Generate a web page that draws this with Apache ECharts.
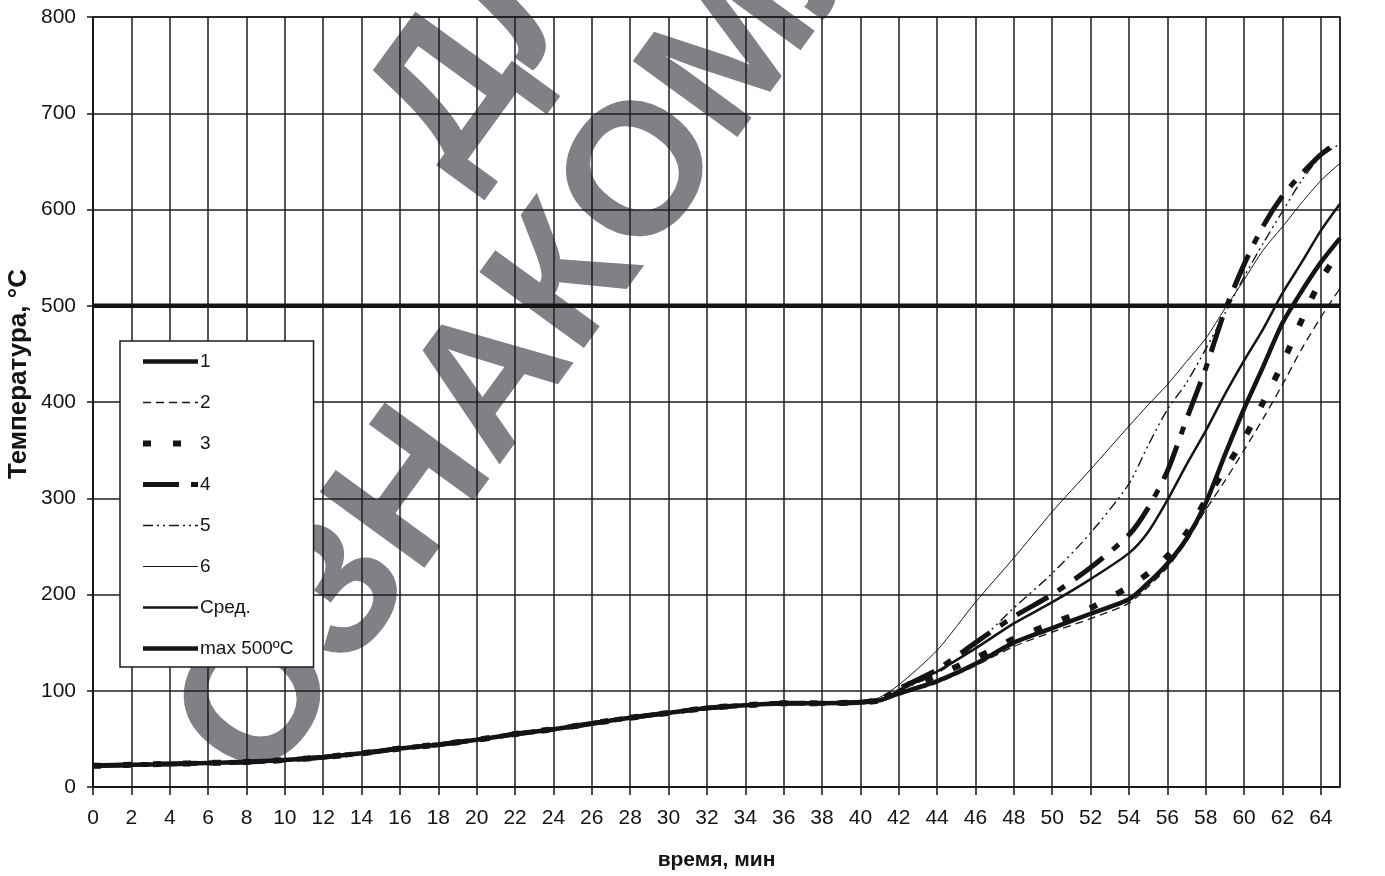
<!DOCTYPE html>
<html>
<head>
<meta charset="utf-8">
<script src="https://cdn.jsdelivr.net/npm/echarts@6/dist/echarts.min.js"></script>
<style>
  html, body { margin: 0; padding: 0; background: #fff; }
  #chart { width: 1385px; height: 876px; }
</style>
</head>
<body>
<div id="chart"></div>
<script>
// time, min
const times = [0, 2, 4, 6, 8, 10, 12, 14, 16, 18, 20, 22, 24, 26, 28, 30, 32, 34, 36, 38, 40,
  41, 42, 44, 46, 48, 50, 52, 54, 55, 56, 57, 58, 59, 60, 61, 62, 63, 64, 65];

// temperature, °C, per thermocouple
const t1 = [22, 23, 24, 25, 26, 28, 31, 35, 40, 44, 49, 55, 60, 66, 72, 77, 82, 85, 87, 87, 88,
  90, 97, 110, 128, 150, 165, 180, 195, 212, 232, 258, 295, 345, 393, 437, 482, 515, 545, 570];
const t2 = [22, 23, 24, 25, 26, 28, 31, 35, 40, 44, 49, 55, 60, 66, 72, 77, 82, 85, 87, 87, 88,
  90, 96, 108, 126, 146, 161, 175, 191, 208, 228, 255, 288, 318, 350, 383, 418, 455, 488, 518];
const t3 = [22, 23, 24, 25, 26, 28, 31, 35, 40, 44, 49, 55, 60, 66, 72, 77, 82, 85, 87, 87, 88,
  90, 99, 116, 134, 154, 170, 186, 208, 222, 240, 264, 298, 330, 362, 400, 440, 485, 527, 557];
const t4 = [22, 23, 24, 25, 26, 28, 31, 35, 40, 44, 49, 55, 60, 66, 72, 77, 82, 85, 87, 87, 88,
  91, 102, 122, 150, 177, 200, 228, 262, 290, 328, 382, 435, 495, 543, 583, 614, 637, 657, 672];
const t5 = [22, 23, 24, 25, 26, 28, 31, 35, 40, 44, 49, 55, 60, 66, 72, 77, 82, 85, 87, 87, 88,
  91, 100, 118, 148, 186, 222, 264, 315, 355, 392, 420, 455, 492, 530, 565, 598, 630, 655, 668];
const t6 = [22, 23, 24, 25, 26, 28, 31, 35, 40, 44, 49, 55, 60, 66, 72, 77, 82, 85, 87, 87, 88,
  93, 106, 142, 192, 238, 286, 330, 375, 397, 418, 442, 466, 497, 527, 558, 582, 607, 630, 648];
const tAvg = [22, 23, 24, 25, 26, 28, 31, 35, 40, 44, 49, 55, 60, 66, 72, 77, 82, 85, 87, 87, 88,
  90, 100, 120, 144, 170, 192, 216, 243, 265, 298, 335, 370, 408, 443, 476, 513, 545, 578, 606];

// limit line
const limitTimes = [0, 65];
const limitValues = [500, 500];

const xTicks = { min: 0, max: 65, interval: 2 };
const yTicks = { min: 0, max: 800, interval: 100 };

const INK = '#141414';
const FONT = '"Liberation Sans", Arial, sans-serif';

function pairs(xs, ys) { return xs.map((x, i) => [x, ys[i]]); }

// line look per series: width and dash pattern
const styles = {
  '1': { width: 4.5, dash: 'solid' },
  '2': { width: 1.3, dash: [8, 5] },
  '3': { width: 6, dash: [8, 22] },
  '4': { width: 5, dash: [36, 12, 8, 12] },
  '5': { width: 1.4, dash: [10, 4, 2, 4, 2, 4] },
  '6': { width: 1, dash: 'solid' },
  'Сред.': { width: 2.5, dash: 'solid' },
  'max 500ºC': { width: 4.5, dash: 'solid' }
};

function curve(name, xs, values, smooth) {
  const s = styles[name];
  return {
    name: name,
    type: 'line',
    data: pairs(xs, values),
    smooth: smooth,
    symbol: 'none',
    lineStyle: { color: INK, width: s.width, type: s.dash, cap: 'butt' },
    itemStyle: { color: INK },
    z: 3
  };
}

const legendNames = ['1', '2', '3', '4', '5', '6', 'Сред.', 'max 500ºC'];

const chart = echarts.init(document.getElementById('chart'), null, { renderer: 'canvas' });

chart.setOption({
  animation: false,
  backgroundColor: '#ffffff',
  textStyle: { fontFamily: FONT },
  grid: {
    left: 93, right: 45, top: 17, bottom: 87,
    show: true, borderColor: '#1e1e1e', borderWidth: 1.5, backgroundColor: 'transparent'
  },
  graphic: [
    {
      type: 'text',
      z: -10,
      x: 612, y: 47,
      rotation: 54 * Math.PI / 180,
      style: {
        text: 'ДЛЯ\nОЗНАКОМЛЕНИЯ',
        fontSize: 188,
        fontWeight: 'bold',
        fontFamily: FONT,
        lineHeight: 205,
        fill: '#808186',
        align: 'center',
        verticalAlign: 'middle'
      }
    },
    {
      type: 'text',
      x: 19, y: 374,
      rotation: Math.PI / 2,
      style: {
        text: 'Температура, °С',
        fontSize: 26,
        fontWeight: 'bold',
        fontFamily: FONT,
        fill: INK,
        align: 'center',
        verticalAlign: 'middle'
      }
    }
  ],
  legend: {
    orient: 'vertical',
    left: 120, top: 341,
    backgroundColor: '#ffffff',
    borderColor: '#1e1e1e',
    borderWidth: 1.5,
    borderRadius: 0,
    padding: [11, 20, 9, 20],
    itemWidth: 55,
    itemHeight: 20,
    itemGap: 22,
    selectedMode: false,
    itemStyle: { opacity: 0 },
    textStyle: { fontSize: 19, color: INK, fontFamily: FONT, padding: [0, 0, 0, -3] },
    data: legendNames.map(n => ({
      name: n,
      itemStyle: { opacity: 0 },
      lineStyle: { width: styles[n].width, type: styles[n].dash, color: INK, opacity: 1 }
    }))
  },
  xAxis: {
    type: 'value',
    min: xTicks.min, max: xTicks.max, interval: xTicks.interval,
    name: 'время, мин',
    nameLocation: 'middle',
    nameGap: 63,
    nameTextStyle: { fontSize: 21, fontWeight: 'bold', color: INK, fontFamily: FONT },
    axisLine: { show: true, onZero: false, lineStyle: { color: INK, width: 1.5 } },
    axisTick: { show: true, length: 8, lineStyle: { color: INK, width: 1.5 } },
    axisLabel: { fontSize: 21, color: INK, margin: 21, showMaxLabel: false, fontFamily: FONT },
    splitLine: { show: true, lineStyle: { color: '#1e1e1e', width: 1.5 } }
  },
  yAxis: {
    type: 'value',
    min: yTicks.min, max: yTicks.max, interval: yTicks.interval,
    axisLine: { show: true, lineStyle: { color: INK, width: 1.5 } },
    axisTick: { show: true, length: 6, lineStyle: { color: INK, width: 1.5 } },
    axisLabel: { fontSize: 21, color: INK, margin: 17, fontFamily: FONT },
    splitLine: { show: true, lineStyle: { color: '#1e1e1e', width: 1.5 } }
  },
  series: [
    curve('1', times, t1, 0.25),
    curve('2', times, t2, 0.25),
    curve('3', times, t3, 0.25),
    curve('4', times, t4, 0.25),
    curve('5', times, t5, 0.25),
    curve('6', times, t6, 0.25),
    curve('Сред.', times, tAvg, 0.25),
    curve('max 500ºC', limitTimes, limitValues, false)
  ]
});
</script>
</body>
</html>
